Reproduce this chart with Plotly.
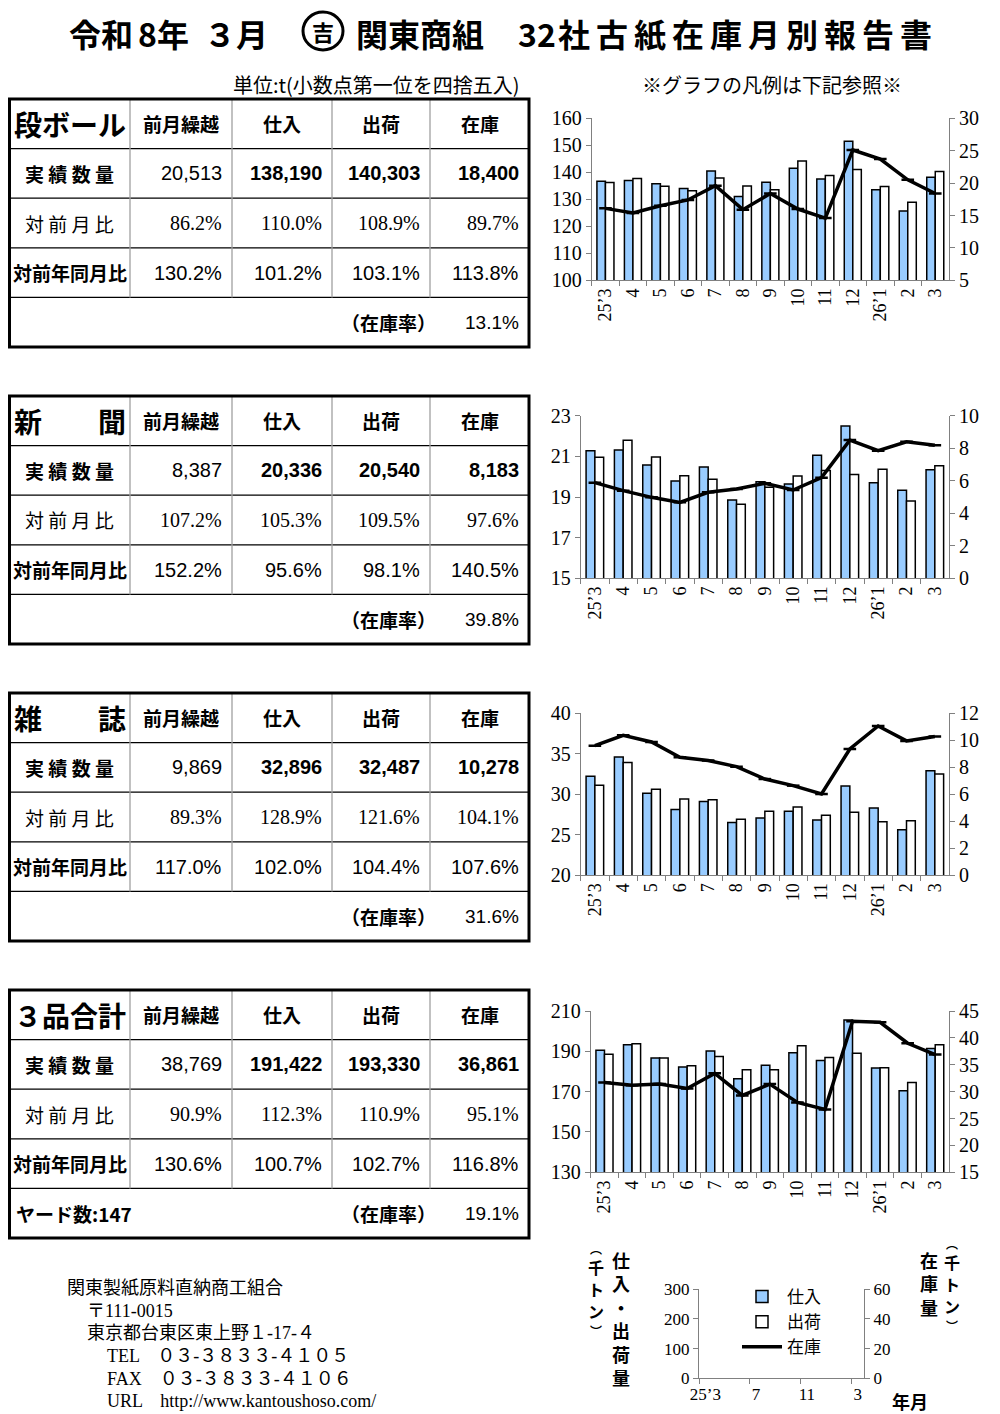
import plotly.graph_objects as go

# ---------------- data ----------------
months = ["25’3", "4", "5", "6", "7", "8", "9", "10", "11", "12", "26’1", "2", "3"]

# 段ボール (千トン)
cb_in = [136.7, 137.0, 135.8, 134.0, 140.5, 131.0, 136.3, 141.5, 137.5, 151.5, 133.5, 125.7, 138.2]
cb_out = [136.2, 137.7, 134.8, 133.2, 137.9, 134.9, 133.5, 144.2, 138.8, 141.0, 134.7, 128.9, 140.3]
cb_stock = [16.1, 15.4, 16.5, 17.4, 19.6, 15.9, 18.4, 16.0, 14.6, 25.1, 23.7, 20.5, 18.4]
# 新聞
np_in = [21.28, 21.31, 20.57, 19.79, 20.48, 18.85, 19.75, 19.64, 21.05, 22.49, 19.70, 19.33, 20.34]
np_out = [20.95, 21.79, 20.97, 20.05, 19.87, 18.64, 19.48, 20.03, 20.30, 20.11, 20.36, 18.80, 20.54]
np_stock = [5.88, 5.39, 4.98, 4.67, 5.29, 5.49, 5.84, 5.43, 6.19, 8.50, 7.85, 8.40, 8.18]
# 雑誌
mg_in = [32.2, 34.6, 30.1, 28.1, 29.1, 26.5, 27.05, 27.9, 26.8, 31.0, 28.3, 25.6, 32.9]
mg_out = [31.1, 33.9, 30.6, 29.4, 29.3, 26.9, 27.9, 28.4, 27.4, 27.75, 26.6, 26.7, 32.5]
mg_stock = [9.60, 10.37, 9.87, 8.73, 8.49, 8.04, 7.12, 6.63, 6.01, 9.35, 11.06, 9.95, 10.28]
# 3品合計
tot_in = [190.5, 193.3, 186.7, 182.2, 190.2, 176.4, 183.1, 189.3, 185.5, 205.5, 181.7, 170.5, 191.4]
tot_out = [188.5, 193.8, 186.7, 182.9, 187.4, 180.9, 180.9, 192.8, 186.9, 189.0, 181.9, 174.5, 193.3]
tot_stock = [31.7, 31.2, 31.4, 30.6, 33.4, 29.3, 31.4, 28.0, 26.7, 43.1, 42.9, 39.0, 36.9]

# tables
table_titles = ["段ボール", "新　　聞", "雑　　誌", "３品合計"]
col_headers = ["前月繰越", "仕入", "出荷", "在庫"]
row_labels = ["実 績 数 量", "対 前 月 比", "対前年同月比"]
carry = [20513, 8387, 9869, 38769]
purchase = [138190, 20336, 32896, 191422]
shipment = [140303, 20540, 32487, 193330]
stock = [18400, 8183, 10278, 36861]
mom_carry = [86.2, 107.2, 89.3, 90.9]
mom_purchase = [110.0, 105.3, 128.9, 112.3]
mom_shipment = [108.9, 109.5, 121.6, 110.9]
mom_stock = [89.7, 97.6, 104.1, 95.1]
yoy_carry = [130.2, 152.2, 117.0, 130.6]
yoy_purchase = [101.2, 95.6, 102.0, 100.7]
yoy_shipment = [103.1, 98.1, 104.4, 102.7]
yoy_stock = [113.8, 140.5, 107.6, 116.8]
stock_rate = [13.1, 39.8, 31.6, 19.1]
yard_count = 147

title_parts = ["令和", "8年", "３月", "関東商組", "32",
               "社", "古", "紙", "在", "庫", "月", "別", "報", "告", "書"]
legend_ticks = ["25’3", "7", "11", "3"]
address_lines = [
    "関東製紙原料直納商工組合",
    "〒111-0015",
    "東京都台東区東上野１-17-４",
    "TEL　０３-３８３３-４１０５",
    "FAX　０３-３８３３-４１０６",
    "URL　http://www.kantoushoso.com/",
]

# ---------------- style / geometry ----------------
# the page body has an 8px margin, so the figure is made 16px smaller and
# every page coordinate below is converted relative to that offset
OFF = 8
W, H = 1000 - 2 * OFF, 1414 - OFF
SANS = "Noto Sans CJK JP"
NUM = "Liberation Sans, Noto Sans CJK JP"
SERIF = "Liberation Serif, Noto Sans CJK JP"
BLUE = "#99CCFF"
AX = "#808080"


def px(x):
    return (x - OFF) / W


def py(y):
    return 1 - (y - OFF) / H


fig = go.Figure()
ann = []
shapes = []


def text(x, y, s, size, family=SANS, anchor="center", bold=False):
    ann.append(dict(x=px(x), y=py(y), xref="paper", yref="paper",
                    text=(f"<b>{s}</b>" if bold else s), showarrow=False,
                    xanchor=anchor, yanchor="middle",
                    font=dict(size=size, family=family, color="black")))


def line(x0, y0, x1, y1, width, color="black"):
    shapes.append(dict(type="line", xref="paper", yref="paper",
                       x0=px(x0), y0=py(y0), x1=px(x1), y1=py(y1),
                       line=dict(color=color, width=width)))


# ---------------- charts ----------------
charts = [
    (cb_in, cb_out, cb_stock, [100, 160], 10, [5, 30], 5),
    (np_in, np_out, np_stock, [15, 23], 2, [0, 10], 2),
    (mg_in, mg_out, mg_stock, [20, 40], 5, [0, 12], 2),
    (tot_in, tot_out, tot_stock, [130, 210], 20, [15, 45], 5),
]
plot_tops = [118.3, 415.7, 713.3, 1011.0]
plot_bottoms = [280.3, 578.3, 875.0, 1172.3]
plot_lefts = [591.7, 580.7, 580.7, 590.7]
plot_right = 949.0

layout_axes = {}
for i, (vin, vout, vst, lr, ld, rr, rd) in enumerate(charts):
    xa = "x" if i == 0 else f"x{i + 1}"
    yl = "y" if i == 0 else f"y{2 * i + 1}"
    yr = f"y{2 * i + 2}"
    fig.add_trace(go.Bar(x=months, y=vin, xaxis=xa, yaxis=yl, name="仕入",
                         marker=dict(color=BLUE, line=dict(color="black", width=1.5)),
                         showlegend=(i == 0), legendgroup="a"))
    fig.add_trace(go.Bar(x=months, y=vout, xaxis=xa, yaxis=yl, name="出荷",
                         marker=dict(color="white", line=dict(color="black", width=1.5)),
                         showlegend=(i == 0), legendgroup="b"))
    fig.add_trace(go.Scatter(x=months, y=vst, xaxis=xa, yaxis=yr, name="在庫",
                             mode="lines+markers",
                             line=dict(color="black", width=3.5),
                             marker=dict(symbol="line-ew", size=9,
                                         line=dict(color="black", width=2.5)),
                             showlegend=(i == 0), legendgroup="c"))
    xkey = "xaxis" if i == 0 else f"xaxis{i + 1}"
    ylkey = "yaxis" if i == 0 else f"yaxis{2 * i + 1}"
    yrkey = f"yaxis{2 * i + 2}"
    layout_axes[xkey] = dict(
        domain=[px(plot_lefts[i]), px(plot_right)], anchor=yl, automargin=False,
        type="category", range=[-0.5, 12.5], tickson="boundaries",
        ticks="outside", ticklen=5, tickcolor=AX, showline=True, linecolor=AX,
        linewidth=1, tickangle=-90, showgrid=False,
        tickfont=dict(family=SERIF, size=18, color="black"))
    layout_axes[ylkey] = dict(
        domain=[py(plot_bottoms[i]), py(plot_tops[i])], anchor=xa, automargin=False,
        range=lr, dtick=ld, tick0=lr[0], ticks="outside", ticklen=5, tickcolor=AX,
        showline=True, linecolor=AX, linewidth=1, showgrid=False, zeroline=False,
        tickfont=dict(family=SERIF, size=20, color="black"))
    layout_axes[yrkey] = dict(
        overlaying=yl, side="right", anchor=xa, automargin=False,
        range=rr, dtick=rd, tick0=rr[0], ticks="outside", ticklen=5, tickcolor=AX,
        showline=True, linecolor=AX, linewidth=1, showgrid=False, zeroline=False,
        tickfont=dict(family=SERIF, size=20, color="black"))

# legend mini chart (empty axes)
fig.add_trace(go.Scatter(x=[], y=[], xaxis="x5", yaxis="y9", showlegend=False, hoverinfo="skip"))
fig.add_trace(go.Scatter(x=[], y=[], xaxis="x5", yaxis="y10", showlegend=False, hoverinfo="skip"))
layout_axes["xaxis5"] = dict(
    domain=[px(699), px(864)], anchor="y9", range=[-0.5, 12.5], automargin=False,
    tickmode="array", tickvals=[0, 4, 8, 12], ticktext=legend_ticks, ticks="",
    minor=dict(tickmode="array", tickvals=[-0.5, 3.5, 7.5, 11.5], ticks="outside",
               ticklen=5, tickcolor=AX),
    showline=True, linecolor=AX, showgrid=False, zeroline=False,
    tickfont=dict(family=SERIF, size=17, color="black"))
layout_axes["yaxis9"] = dict(
    domain=[py(1378.3), py(1289.3)], anchor="x5", range=[0, 300], dtick=100,
    automargin=False,
    ticks="outside", ticklen=5, tickcolor=AX, showline=True, linecolor=AX,
    showgrid=False, zeroline=False, tickfont=dict(family=SERIF, size=17, color="black"))
layout_axes["yaxis10"] = dict(
    overlaying="y9", side="right", anchor="x5", range=[0, 60], dtick=20,
    automargin=False,
    ticks="outside", ticklen=5, tickcolor=AX, showline=True, linecolor=AX,
    showgrid=False, zeroline=False, tickfont=dict(family=SERIF, size=17, color="black"))

# ---------------- tables ----------------
table_tops = [99, 396, 693, 990]
row_h = 49.6
cols = [9.5, 130, 232, 332, 430, 529]
for t, top in enumerate(table_tops):
    bottom = top + 5 * row_h
    for r in range(1, 5):
        line(cols[0], top + r * row_h, cols[-1], top + r * row_h, 1.3, "black")
    for c in cols[1:-1]:
        line(c, top, c, top + 4 * row_h, 1.3, "#A0A0A0")
    shapes.append(dict(type="rect", xref="paper", yref="paper",
                       x0=px(cols[0]), y0=py(top), x1=px(cols[-1]), y1=py(bottom),
                       line=dict(color="black", width=3)))
    cy = [top + (r + 0.5) * row_h for r in range(5)]
    ccx = [(cols[k] + cols[k + 1]) / 2 for k in range(5)]
    text(ccx[0], cy[0], table_titles[t], 28, bold=True)
    for k, h in enumerate(col_headers):
        text(ccx[k + 1], cy[0], h, 19, bold=True)
    text(ccx[0], cy[1], row_labels[0], 19, bold=True)
    text(ccx[0], cy[2], row_labels[1], 19, bold=False)
    text(ccx[0], cy[3], row_labels[2], 19, bold=True)
    actual = [carry[t], purchase[t], shipment[t], stock[t]]
    mom = [mom_carry[t], mom_purchase[t], mom_shipment[t], mom_stock[t]]
    yoy = [yoy_carry[t], yoy_purchase[t], yoy_shipment[t], yoy_stock[t]]
    for k in range(4):
        xr = cols[k + 2] - 8
        text(xr, cy[1], f"{actual[k]:,}", 20, family=NUM, anchor="right", bold=(k > 0))
        text(xr, cy[2], f"{mom[k]:.1f}%", 20, family=SERIF, anchor="right")
        text(xr, cy[3], f"{yoy[k]:.1f}%", 20, family=NUM, anchor="right")
    text(388, cy[4], "（在庫率）", 19, bold=True)
    text(cols[-1] - 8, cy[4], f"{stock_rate[t]:.1f}%", 19, family=NUM, anchor="right")
    if t == 3:
        text(14, cy[4], f"ヤード数:{yard_count}", 19, anchor="left", bold=True)

# ---------------- titles / notes ----------------
title_x = [101, 163, 236, 420, 537] + [574 + 38 * k for k in range(10)]
for s, x in zip(title_parts, title_x):
    text(x, 33, s, 32, bold=True)
shapes.append(dict(type="circle", xref="paper", yref="paper",
                   x0=px(303), y0=py(12), x1=px(343), y1=py(50),
                   line=dict(color="black", width=3)))
text(323, 31, "吉", 22, bold=True)
text(522, 85, "単位:t(小数点第一位を四捨五入)", 20, anchor="right")
text(772, 85, "※グラフの凡例は下記参照※", 20)

# address
addr_y = [1288, 1310.5, 1333, 1356, 1378.5, 1401]
addr_x = [65, 85, 85, 105, 105, 105]
for s, x, y in zip(address_lines, addr_x, addr_y):
    text(x, y, s, 18, family=SERIF, anchor="left")

# mini-chart axis titles (vertical, one character per line)
v_sizes = [12, 16, 16, 16, 12]
for ch, y, s in zip("︵千トン︶", [1248, 1267.2, 1289, 1310.8, 1330], v_sizes):
    text(596, y, ch, s, bold=True)
for ch, y, s in zip("︵千トン︶", [1243, 1262.2, 1284, 1305.8, 1325], v_sizes):
    text(952, y, ch, s, bold=True)
text(621, 1318, "<br>".join("仕入・出荷量"), 18, bold=True)
text(929, 1283, "<br>".join("在庫量"), 18, bold=True)
text(910, 1401, "年月", 18, bold=True)

fig.update_layout(
    width=W, height=H, margin=dict(l=0, r=0, t=0, b=0, pad=0, autoexpand=False),
    paper_bgcolor="white", plot_bgcolor="rgba(0,0,0,0)",
    barmode="group", bargap=0.38, bargroupgap=0,
    showlegend=True,
    legend=dict(x=px(737), y=py(1279), xanchor="left", yanchor="top",
                bgcolor="rgba(0,0,0,0)", font=dict(family=SANS, size=17, color="black"),
                itemwidth=40, tracegroupgap=2, traceorder="normal"),
    annotations=ann, shapes=shapes,
    **layout_axes,
)

fig.write_html("out.html")
